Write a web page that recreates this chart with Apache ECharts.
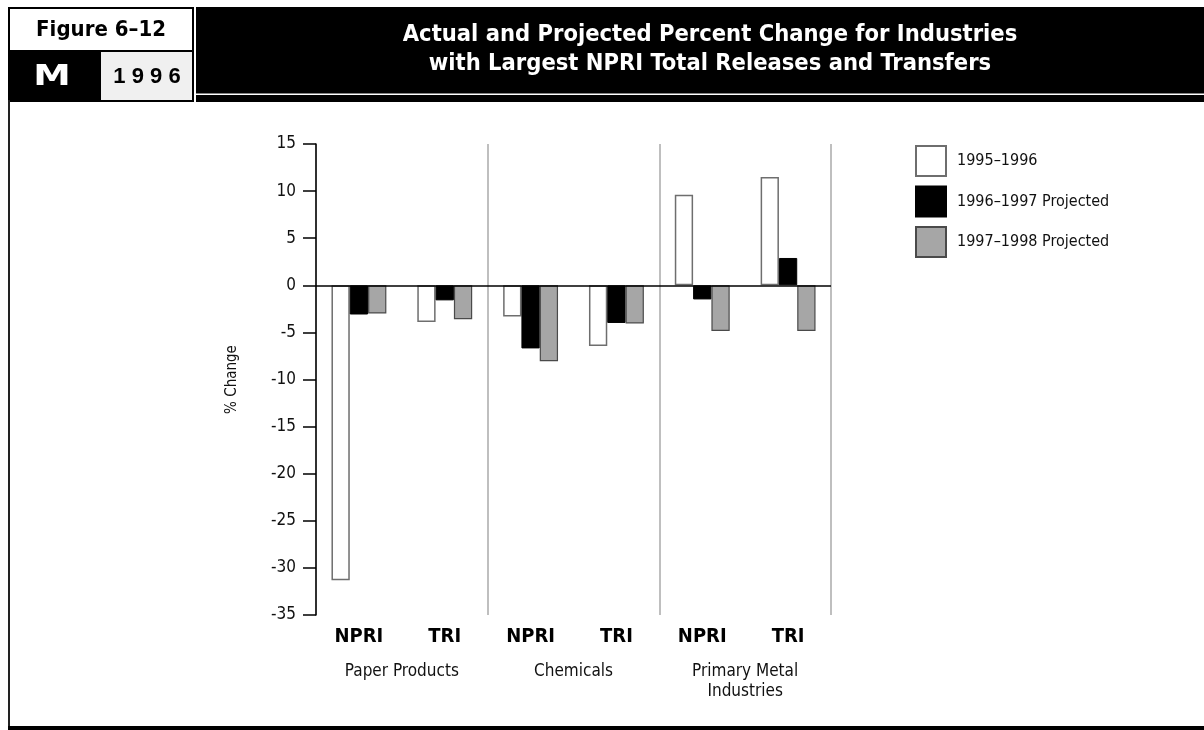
<!DOCTYPE html>
<html>
<head>
<meta charset="utf-8">
<script src="https://cdn.jsdelivr.net/npm/echarts@6/dist/echarts.min.js"></script>
<style>
html,body{margin:0;padding:0;background:#fff;}
#chart{width:1204px;height:730px;}
</style>
</head>
<body>
<div id="chart"></div>
<script>
var categories = ['NPRI', 'TRI', 'NPRI', 'TRI', 'NPRI', 'TRI'];
var groups = ['Paper Products', 'Chemicals', 'Primary Metal\nIndustries'];
var seriesNames = ['1995\u20131996', '1996\u20131997 Projected', '1997\u20131998 Projected'];
var actual9596 = [-31.3, -3.9, -3.3, -6.45, 9.6, 11.5];
var proj9697 = [-3.1, -1.6, -6.7, -4.0, -1.5, 2.9];
var proj9798 = [-3.0, -3.6, -8.05, -4.05, -4.85, -4.85];
var yTicks = {min: -35, max: 15, interval: 5};

var COND = '"Liberation Sans Narrow", "DejaVu Sans Condensed", "Roboto Condensed", sans-serif';

var chart = echarts.init(document.getElementById('chart'), null, {renderer: 'canvas'});

var option = {
  backgroundColor: '#ffffff',
  animation: false,
  grid: {left: 316, right: 373, top: 144, bottom: 115, containLabel: false},
  legend: {
    orient: 'vertical',
    left: 910,
    top: 140,
    itemWidth: 30,
    itemHeight: 30,
    itemGap: 8.5,
    icon: 'rect',
    textStyle: {fontFamily: COND, fontSize: 16, color: '#111', padding: [0, 0, 0, 6]},
    data: seriesNames
  },
  xAxis: [
    {
      type: 'category',
      data: categories,
      position: 'bottom',
      axisLine: {show: false, onZero: false},
      axisTick: {show: false},
      splitLine: {show: false},
      axisLabel: {
        interval: 0, margin: 12,
        fontFamily: COND, fontSize: 20, fontWeight: 'bold', color: '#000'
      }
    },
    {
      type: 'category',
      data: groups,
      position: 'bottom',
      axisLine: {show: false, onZero: false},
      axisTick: {show: false},
      splitLine: {show: true, interval: 0, lineStyle: {color: '#aaaaaa', width: 1.5}},
      axisLabel: {
        interval: 0, margin: 47, lineHeight: 20,
        fontFamily: COND, fontSize: 17, color: '#111'
      }
    }
  ],
  yAxis: {
    type: 'value',
    min: yTicks.min,
    max: yTicks.max,
    interval: yTicks.interval,
    name: '% Change',
    nameLocation: 'middle',
    nameGap: 76,
    nameRotate: 90,
    nameTextStyle: {fontFamily: COND, fontSize: 15, color: '#111'},
    axisLine: {show: true, lineStyle: {color: '#000', width: 1.5}},
    axisTick: {show: true, length: 13, lineStyle: {color: '#000', width: 1.5}},
    splitLine: {show: false},
    axisLabel: {margin: 20, fontFamily: COND, fontSize: 17, color: '#111'}
  },
  series: [
    {
      name: seriesNames[0], type: 'bar', xAxisIndex: 0,
      data: actual9596, barWidth: 18.3, barGap: '0%',
      itemStyle: {color: '#ffffff', borderColor: '#6e6e6e', borderWidth: 1.5},
      markLine: {
        silent: true, symbol: 'none', label: {show: false},
        lineStyle: {color: '#000', type: 'solid', width: 1.5},
        data: [{yAxis: 0}]
      }
    },
    {
      name: seriesNames[1], type: 'bar', xAxisIndex: 0,
      data: proj9697, barWidth: 18.3, barGap: '0%',
      itemStyle: {color: '#000000', borderColor: '#000000', borderWidth: 1}
    },
    {
      name: seriesNames[2], type: 'bar', xAxisIndex: 0,
      data: proj9798, barWidth: 18.3, barGap: '0%',
      itemStyle: {color: '#a6a6a6', borderColor: '#4a4a4a', borderWidth: 1.2}
    }
  ],
  graphic: [
    {type: 'rect', z: 100, shape: {x: 8, y: 7, width: 1196, height: 95}, style: {fill: '#000'}},
    {type: 'rect', z: 101, shape: {x: 10, y: 9, width: 182, height: 41}, style: {fill: '#fff'}},
    {type: 'rect', z: 101, shape: {x: 101, y: 52, width: 91, height: 48}, style: {fill: '#f0f0f0'}},
    {type: 'rect', z: 101, shape: {x: 194, y: 7, width: 2, height: 95}, style: {fill: '#fff'}},
    {type: 'rect', z: 101, shape: {x: 196, y: 93.5, width: 1008, height: 1.5}, style: {fill: '#fff'}},
    {type: 'text', z: 102, style: {x: 101, y: 30, text: 'Figure 6\u201312', fill: '#000', align: 'center', verticalAlign: 'middle',
      font: 'bold 22px ' + COND}},
    {type: 'text', z: 102, x: 52, y: 77, scaleX: 1.3, style: {x: 0, y: 0, text: 'M', fill: '#fff', align: 'center', verticalAlign: 'middle',
      font: 'bold 29px "DejaVu Sans", sans-serif'}},
    {type: 'text', z: 102, style: {x: 147, y: 77, text: '1 9 9 6', fill: '#000', align: 'center', verticalAlign: 'middle',
      font: 'bold 22px "Liberation Sans", sans-serif'}},
    {type: 'text', z: 102, style: {x: 710, y: 35, text: 'Actual and Projected Percent Change for Industries', fill: '#fff',
      align: 'center', verticalAlign: 'middle', font: 'bold 23.5px ' + COND}},
    {type: 'text', z: 102, style: {x: 710, y: 64, text: 'with Largest NPRI Total Releases and Transfers', fill: '#fff',
      align: 'center', verticalAlign: 'middle', font: 'bold 23.5px ' + COND}},
    {type: 'rect', z: 100, shape: {x: 8, y: 100, width: 2, height: 630}, style: {fill: '#222'}},
    {type: 'rect', z: 100, shape: {x: 8, y: 726, width: 1196, height: 4}, style: {fill: '#000'}}
  ]
};
chart.setOption(option);
</script>
</body>
</html>
